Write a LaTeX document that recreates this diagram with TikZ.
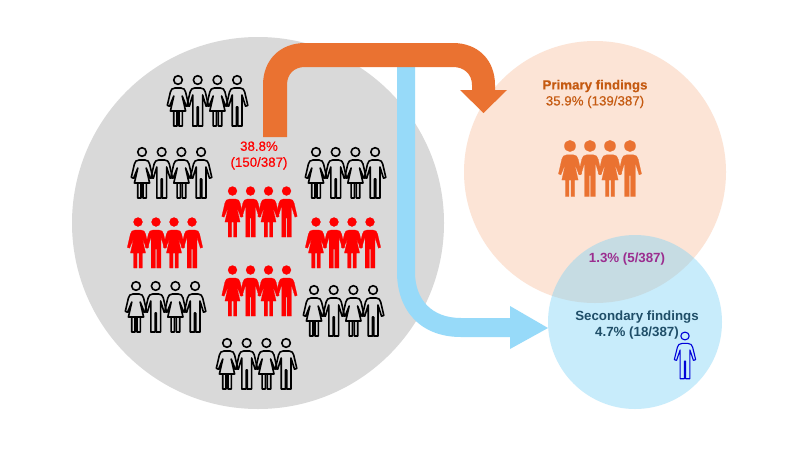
\documentclass[tikz,border=0pt]{standalone}
\usepackage{fontspec}
\setmainfont{Liberation Sans}
\newfontfamily\semifont{Liberation Sans}[FakeBold=0.35]
\definecolor{grayc}{HTML}{D9D9D9}
\definecolor{peachc}{HTML}{FCE4D6}
\definecolor{bluec}{RGB}{129,211,246}
\definecolor{orangea}{HTML}{EA7231}
\definecolor{bluea}{HTML}{97DAF9}
\definecolor{ptext}{HTML}{C55A11}
\definecolor{stext}{HTML}{1F4E68}
\definecolor{mtext}{HTML}{9B2D8F}
\tikzset{
  venn/.style={circle,inner sep=0pt,minimum size=#1},
  lab/.style={inner sep=0pt,align=center,font=\fontsize{13.3}{16}\selectfont},
  outl/.style={draw=black,line width=1.6pt,line join=round,fill=none},
  solidp/.style={fill=#1,draw=#1,line width=0.2pt,line join=round},
}
\newcommand\headr{4.3}
\newcommand\malefig[1]{%
  \path[#1] (0,0) circle[radius=\headr];
  \path[#1] (-4.9,46) -- (-4.9,15) -- (-8.4,26.2) -- (-10.7,25.4) -- (-7.6,12)
    .. controls (-7.1,9.5) and (-5.5,8) .. (-3,8) -- (3,8)
    .. controls (5.5,8) and (7.1,9.5) .. (7.6,12) -- (10.7,25.4) -- (8.4,26.2) -- (4.9,15)
    -- (4.9,46) -- (0.6,46) -- (0.6,27) -- (-0.6,27) -- (-0.6,46) -- cycle;
}
\newcommand\femalefig[1]{%
  \path[#1] (0,0) circle[radius=\headr];
  \path[#1] (-4.3,46) -- (-4.3,31) -- (-7.6,31) -- (-4.2,16) -- (-8.4,26.2) -- (-10.7,25.4) -- (-7.6,12)
    .. controls (-7.1,9.5) and (-5.5,8) .. (-3,8) -- (3,8)
    .. controls (5.5,8) and (7.1,9.5) .. (7.6,12) -- (10.7,25.4) -- (8.4,26.2) -- (4.2,16)
    -- (7.6,31) -- (4.3,31) -- (4.3,46) -- (1,46) -- (1,31) -- (-1,31) -- (-1,46) -- cycle
    (-7.6,31) -- (7.6,31);
}
% #1 x of first head, #2 y of head, #3 spacing, #4 xscale, #5 yscale, #6 style
\newcommand\crowd[6]{%
  \begin{scope}[shift={(#1,#2)}]
    \begin{scope}[shift={(0,0)},xscale=#4,yscale=#5]\femalefig{#6}\end{scope}
    \begin{scope}[shift={(#3,0)},xscale=#4,yscale=#5]\malefig{#6}\end{scope}
    \begin{scope}[shift={(2*#3,0)},xscale=#4,yscale=#5]\femalefig{#6}\end{scope}
    \begin{scope}[shift={(3*#3,0)},xscale=#4,yscale=#5]\malefig{#6}\end{scope}
  \end{scope}%
}
\begin{document}
\begin{tikzpicture}[x=1pt,y=-1pt]
\useasboundingbox (0,0) rectangle (800,450);
\fill[white] (0,0) rectangle (800,450);
% circles
\node[venn=372pt,fill=grayc] (pool) at (258,223) {};
\node[venn=262pt,fill=peachc] (primary) at (595,172) {};
% arrows
\fill[bluea] (397,67) -- (415,67) -- (415,272)
  .. controls (415,300) and (432,318) .. (461,318)
  -- (510,318) -- (510,306) -- (548,328) -- (510,349) -- (510,337) -- (461,337)
  .. controls (420,337) and (397,310) .. (397,272) -- cycle;
\fill[orangea] (263,137) -- (263,85)
  .. controls (263,60) and (280,43) .. (305,43)
  -- (453,43) .. controls (478,43) and (495,60) .. (495,85)
  -- (495,90) -- (507,90) -- (483.5,113) -- (460,90) -- (472,90) -- (472,85)
  .. controls (472,74) and (464,67) .. (453,67)
  -- (305,67) .. controls (294,67) and (287,74) .. (287,85)
  -- (287,137) -- cycle;
\node[venn=174pt,fill=bluec,fill opacity=0.43] (secondary) at (635,322) {};
% people
\crowd{178}{80}{19.7}{1}{1}{outl}
\crowd{142}{152}{19.7}{1}{1}{outl}
\crowd{316}{152}{19.7}{1}{1}{outl}
\crowd{136}{286}{19.7}{1}{1}{outl}
\crowd{314}{290}{19.7}{1}{1}{outl}
\crowd{227}{343}{19.7}{1}{1}{outl}
\renewcommand\headr{4.5}
\crowd{232.5}{191}{18}{1}{1}{solidp=red}
\crowd{232.5}{270}{18}{1}{1}{solidp=red}
\crowd{138}{222}{18}{1}{1}{solidp=red}
\crowd{316}{222}{18}{1}{1}{solidp=red}
\renewcommand\headr{5.2}
\crowd{570}{146}{20}{1.08}{1.1}{solidp=orangea}
\renewcommand\headr{4.2}
\begin{scope}[shift={(685,336)},xscale=1,yscale=0.93]
  \malefig{draw=blue!85!black,line width=1.1pt,line join=round,fill=none}
\end{scope}
% labels
\node[lab,text=red,font=\fontsize{13.3}{16}\selectfont\semifont] (lpool) at (259,155.5) {38.8\%\\(150/387)};
\node[lab,text=ptext,font=\fontsize{13.3}{16}\selectfont\semifont] (lprim) at (595,94) {\textbf{Primary findings}\\35.9\% (139/387)};
\node[lab,text=mtext,font=\fontsize{13.3}{16}\selectfont\bfseries] (lboth) at (627,259) {1.3\% (5/387)};
\node[lab,text=stext,font=\fontsize{13.3}{16}\selectfont\bfseries] (lsec) at (637,325) {Secondary findings\\4.7\% (18/387)};
\end{tikzpicture}
\end{document}
